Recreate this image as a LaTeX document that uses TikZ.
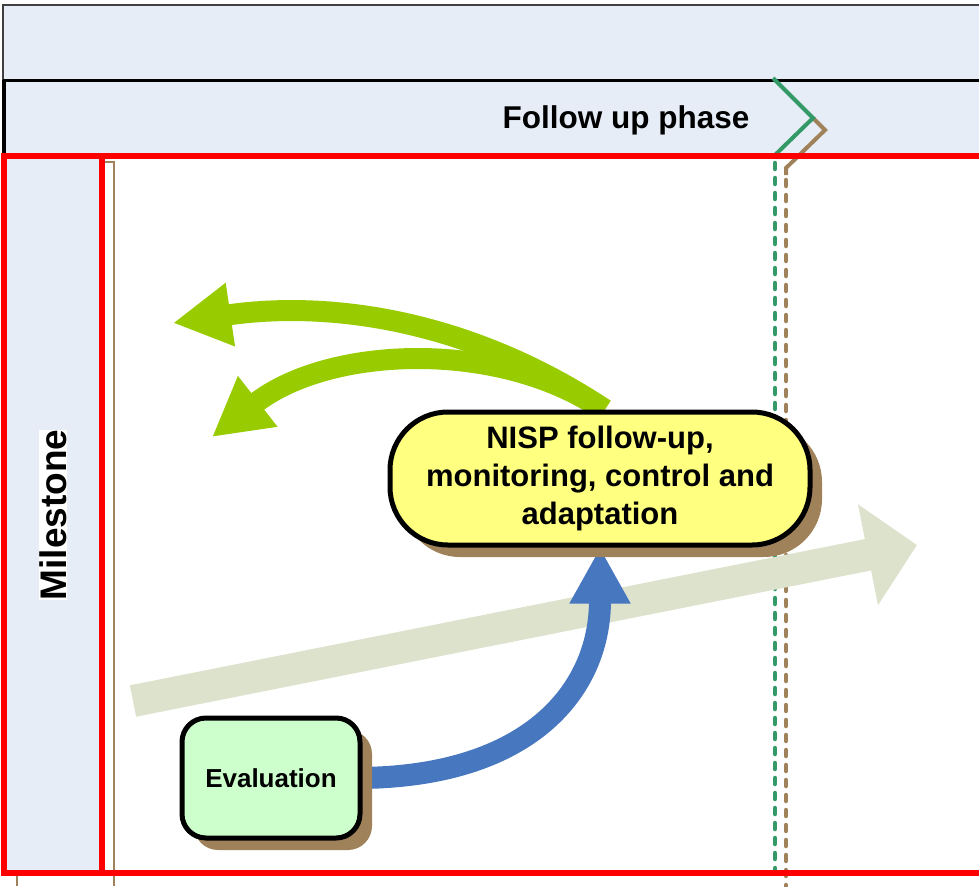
\documentclass[tikz,border=0pt]{standalone}
\usepackage{fontspec}
\setmainfont{Liberation Sans}
\usetikzlibrary{arrows.meta,shadows}
\definecolor{bandblue}{HTML}{E6EDF7}
\definecolor{framered}{HTML}{FF0000}
\definecolor{shadowbrown}{HTML}{A0825A}
\definecolor{chevgreen}{HTML}{339966}
\definecolor{limegreen}{HTML}{99CC00}
\definecolor{beige}{HTML}{DDE2CC}
\definecolor{arrblue}{HTML}{4677BF}
\definecolor{nispyellow}{HTML}{FFFF80}
\definecolor{evalgreen}{HTML}{CCFFCC}
\pgfdeclarelayer{bg}
\pgfdeclarelayer{arr}
\pgfsetlayers{bg,arr,main}
\tikzset{
  boxshadow/.style={drop shadow={shadow xshift=12pt, shadow yshift=-12pt, fill=shadowbrown, opacity=1}},
  nispbox/.style={draw=black, line width=5pt, fill=nispyellow, rounded corners=58pt,
    minimum width=420pt, minimum height=133pt, align=center, inner sep=0pt,
    font=\fontsize{31}{38}\selectfont\bfseries, boxshadow},
  evalbox/.style={draw=black, line width=5pt, fill=evalgreen, rounded corners=24pt,
    minimum width=178pt, minimum height=120pt, inner sep=0pt,
    font=\fontsize{26}{30}\selectfont\bfseries, boxshadow},
  greenarr/.style={draw=limegreen, line width=21pt, -{Triangle[length=58pt,width=60pt]}},
  bluearr/.style={draw=arrblue, line width=22pt, -{Triangle[length=56pt,width=57pt]}},
  beigearr/.style={draw=beige, line width=32pt, -{Triangle[length=50pt,width=100pt]}},
  dashline/.style={line width=4.5pt, line cap=round, dash pattern=on 6pt off 9pt},
}
\begin{document}
\begin{tikzpicture}[x=1pt,y=-1pt]
\useasboundingbox (0,0) rectangle (979,886);

% ---------- nodes ----------
\node[nispbox] (nisp) at (600,478.5) {NISP follow-up,\\monitoring, control and\\adaptation};
\node[evalbox] (eval) at (271,778) {Evaluation};
\node[anchor=base east, font=\fontsize{31.5}{36}\selectfont\bfseries] (fup) at (753,128) {Follow up phase};
\node[rotate=90, fill=white, inner sep=0pt, font=\fontsize{37}{40}\selectfont\bfseries] (ms) at (53,515) {Milestone};

% ---------- background ----------
\begin{pgfonlayer}{bg}
  \fill[bandblue] (3,5) rectangle (990,155);
  \draw[black!75, line width=2pt] (3,155) -- (3,5) -- (990,5);
  \draw[black, line width=3pt] (3,80) -- (990,80);
  \draw[black, line width=4pt] (4,80) -- (4,156);
  \fill[bandblue] (4,156) rectangle (102,873);
  % brown lines
  \draw[shadowbrown, line width=2.5pt] (105,162) -- (114,162) -- (114,886);
  \draw[shadowbrown, line width=2.5pt] (17,873) -- (17,886);
  % chevrons
  \coordinate (bc0) at (813,118);
  \coordinate (bc1) at (825,130);
  \coordinate (bc2) at (786,168);
  \coordinate (bc3) at (786,886);
  \coordinate (gc0) at (773,78);
  \coordinate (gc1) at (813,118);
  \coordinate (gc2) at (775,155);
  \coordinate (gc3) at (775,873);
  \draw[shadowbrown, line width=4pt] (bc0) -- (bc1) -- (bc2) -- ++(0,7);
  \draw[shadowbrown, dashline] ([yshift=-12pt]bc2) -- (bc3);
  \draw[chevgreen, line width=4pt] (gc0) -- (gc1) -- (gc2);
  \draw[chevgreen, dashline] ([yshift=-8pt]gc2) -- (gc3);
  % red frame
  \draw[framered, line width=5.5pt] (4,156) rectangle (995,873);
  \draw[framered, line width=5.5pt] (102,156) -- (102,873);
\end{pgfonlayer}

% ---------- arrows ----------
\begin{pgfonlayer}{arr}
  \coordinate (b0) at (133,701);
  \coordinate (b1) at (917,545);
  \draw[beigearr] (b0) -- (b1);
  \coordinate (t1) at (173,323);
  \coordinate (t2) at (212,437);
  \draw[greenarr] ([xshift=2pt]nisp.north) .. controls (500,340) and (330,345) .. (t2);
  \draw[greenarr] ([xshift=5pt]nisp.north) .. controls (470,320) and (330,300) .. (t1);
  \draw[bluearr] ([xshift=-4pt]eval.east) .. controls (530,777) and (600,690) .. (nisp.south);
\end{pgfonlayer}
\end{tikzpicture}
\end{document}
